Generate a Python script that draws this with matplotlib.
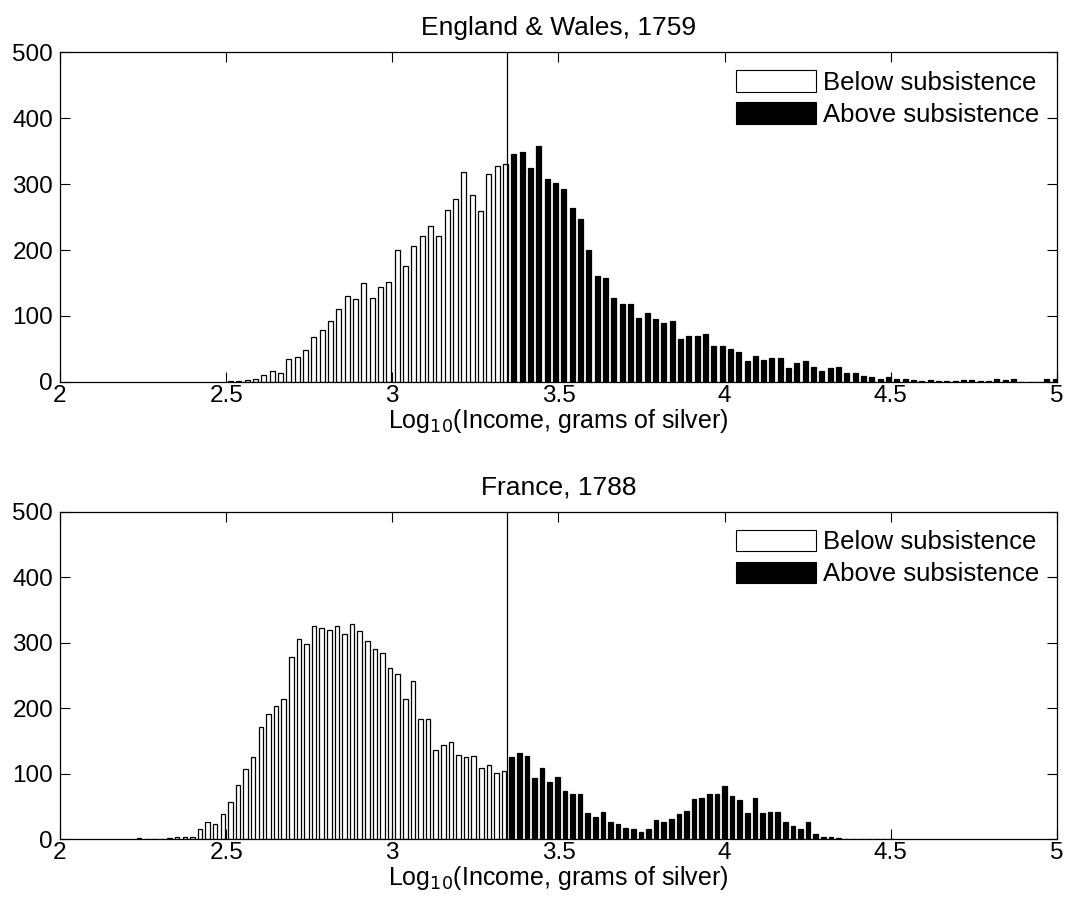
import matplotlib
matplotlib.use("Agg")
import matplotlib.pyplot as plt
from matplotlib.patches import Patch
import numpy as np

plt.rcParams['font.family'] = ['Liberation Sans', 'DejaVu Sans']

# subsistence threshold, log10 grams of silver
subsistence = 3.345

# England & Wales 1759: 100 histogram bins over this range
ew_range = (2.501, 5.007)
ew_counts = [
    2, 2, 3, 5, 10, 16, 13, 34, 38, 48, 68, 78, 93, 110, 131, 126, 150, 127,
    144, 152, 200, 176, 206, 222, 236, 221, 261, 278, 319, 283, 259, 315, 327,
    331, 345, 349, 325, 358, 308, 301, 292, 264, 247, 200, 161, 158, 127, 118,
    118, 97, 105, 95, 90, 93, 65, 69, 70, 73, 54, 54, 50, 45, 32, 40, 33, 36,
    37, 21, 29, 31, 23, 17, 21, 23, 14, 13, 9, 8, 4, 8, 5, 5, 3, 2, 3, 2, 2,
    1, 3, 3, 2, 2, 4, 3, 5, 0, 0, 0, 4, 4,
]

# France 1788
fr_range = (2.227, 4.514)
fr_counts = [
    2, 0, 0, 0, 2, 4, 4, 4, 16, 27, 24, 39, 57, 83, 108, 126, 171, 192, 204,
    214, 278, 306, 298, 326, 322, 319, 325, 313, 329, 318, 302, 290, 285, 262,
    253, 215, 241, 184, 184, 137, 144, 148, 129, 126, 128, 109, 114, 102, 104,
    126, 132, 128, 94, 109, 88, 95, 74, 69, 70, 40, 35, 42, 27, 23, 18, 16, 11,
    16, 30, 27, 31, 39, 44, 61, 64, 69, 70, 81, 66, 60, 40, 63, 40, 42, 42, 27,
    21, 16, 27, 9, 4, 4, 2, 1, 1, 0, 0, 0, 0, 1,
]

titles = ["England & Wales, 1759", "France, 1788"]
xticks = [2, 2.5, 3, 3.5, 4, 4.5, 5]
xticklabels = ["2", "2.5", "3", "3.5", "4", "4.5", "5"]
yticks = [0, 100, 200, 300, 400, 500]
labels = ["Below subsistence", "Above subsistence"]

FS = 17.5

fig = plt.figure(figsize=(10.65, 9.05), dpi=100)
ax_top = fig.add_axes([0.0563, 0.578, 0.9362, 0.3643])
ax_bot = fig.add_axes([0.0563, 0.0724, 0.9362, 0.3622])


def draw_panel(ax, counts, rng, title):
    counts = np.array(counts)
    edges = np.linspace(rng[0], rng[1], len(counts) + 1)
    centers = (edges[:-1] + edges[1:]) / 2
    w = edges[1] - edges[0]
    below = centers < subsistence
    ax.bar(centers[below], counts[below], width=w * 0.6, color="white",
           edgecolor="black", linewidth=0.9)
    ax.bar(centers[~below], counts[~below], width=w * 0.6, color="black",
           edgecolor="black", linewidth=0.9)
    ax.axvline(subsistence, color="black", linewidth=0.9)

    ax.set_xlim(2, 5)
    ax.set_ylim(0, 500)
    ax.set_xticks(xticks)
    ax.set_xticklabels(xticklabels)
    ax.set_yticks(yticks)
    ax.tick_params(direction="in", length=7, width=0.8, labelsize=FS,
                   top=True, right=True)
    ax.tick_params(axis="x", pad=2)
    ax.tick_params(axis="y", pad=5)
    for s in ax.spines.values():
        s.set_linewidth(0.9)
    ax.set_title(title, fontsize=19, pad=12.5)
    ax.set_xlabel("Log$_{10}$(Income, grams of silver)", fontsize=18,
                  labelpad=0)

    handles = [Patch(facecolor="white", edgecolor="black", linewidth=0.8),
               Patch(facecolor="black", edgecolor="black", linewidth=0.8)]
    ax.legend(handles, labels, loc="upper right", frameon=False, fontsize=18.5,
              handlelength=3.1, handleheight=0.9, handletextpad=0.28,
              labelspacing=0.3, borderaxespad=0.5, borderpad=0.2)


draw_panel(ax_top, ew_counts, ew_range, titles[0])
draw_panel(ax_bot, fr_counts, fr_range, titles[1])

fig.savefig("out.png", dpi=100)
